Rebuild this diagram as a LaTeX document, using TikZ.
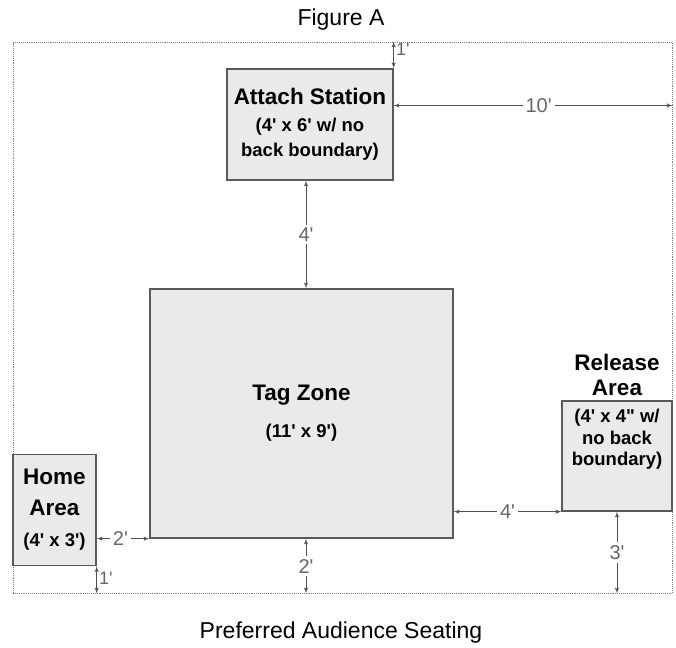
\documentclass[tikz,border=0pt]{standalone}
\usepackage{fontspec}
\setmainfont{Liberation Sans}
\usetikzlibrary{positioning,arrows}
\definecolor{boxfill}{HTML}{EAEAEA}
\definecolor{boxline}{HTML}{5A5A5A}
\definecolor{dimgray}{HTML}{505050}
\definecolor{dimtext}{HTML}{666666}
\newcommand{\ft}{\textquotesingle}
\newcommand{\inch}{\textquotedbl}
\newcommand{\titlefont}{\fontsize{22.5}{31}\selectfont\bfseries}
\newcommand{\subfont}{\fontsize{18.5}{25}\selectfont\bfseries}
\tikzstyle{area} = [rectangle, draw=boxline, fill=boxfill, line width=1.3pt, %
   inner sep=0pt, text centered, align=center]
\tikzstyle{field} = [rectangle, draw=gray, densely dotted, line width=0.9pt]
\tikzstyle{dummy} = [inner sep=0pt]
\tikzstyle{dim} = [draw, dimgray, line width=1pt, latex'-latex']
\tikzstyle{dimlabel} = [fill=white, text=dimtext, inner sep=3pt, font=\fontsize{20}{20}\selectfont]

\begin{document}
\begin{tikzpicture}[x=1pt, y=-1pt]
   \useasboundingbox (0,0) rectangle (676,647);
   % Place nodes
   \node [field, minimum width=659pt, minimum height=551pt](field) at (342.5,317.5){};
   \node [dummy, font=\fontsize{23}{23}\selectfont](figtitle) at (341,20){Figure A};
   \node [dummy, font=\fontsize{23}{23}\selectfont](seating) at (341,633){Preferred Audience Seating};

   % Areas %%%%%%%%%%%%%%%%%%%%%%%%%%%%%%%%%%%%%%%%%%%%%%%%%%%%%%%%%%%%%%
   \node[area, minimum width=166pt, minimum height=111pt, font=\subfont](Attach) at (310,124.5){%
      {\titlefont Attach Station}\\[2pt] (4\ft{} x 6\ft{} w/ no\\ back boundary)};

   \node[area, minimum width=303pt, minimum height=249pt, font=\subfont](TagZone) at (301.5,413.5){%
      {\titlefont Tag Zone}\\[12pt] (11\ft{} x 9\ft)};

   \node[area, minimum width=83pt, minimum height=111pt, font=\titlefont](Home) at (54.5,510){%
      Home\\ Area\\ {\subfont (4\ft{} x 3\ft)}};

   \node[area, minimum width=110pt, minimum height=110pt, %
      label={[align=center, font=\fontsize{22.5}{25}\selectfont\bfseries, inner sep=4pt]above:Release\\ Area}](Release) at (617,456){};
   \node[dummy, below=9pt of Release.north, align=center, font=\fontsize{18.5}{21.5}\selectfont\bfseries](ReleaseNote){%
      (4\ft{} x 4\inch{} w/\\ no back\\ boundary)};

   % Draw edges
   % Attach station
   \path [dim] (Attach.north east) -- (Attach.north east |- field.north)
      node[pos=0.7, right, inner sep=2pt, text=dimtext, font=\fontsize{18}{18}\selectfont]{1\ft};
   \path [dim] ([yshift=19pt]Attach.east) -- ([yshift=19pt]Attach.east -| field.east)
      node[dimlabel, pos=0.52]{10\ft};
   \path [dim] ([xshift=-4pt]Attach.south) -- ([xshift=-4pt]Attach.south |- TagZone.north)
      node[dimlabel, midway]{4\ft};
   % Home area
   \path [dim] (Home.east |- TagZone.south west) -- (TagZone.south west)
      node[dimlabel, pos=0.45]{2\ft};
   \path [dim] (Home.south east) -- (Home.south east |- field.south)
      node[pos=0.45, right, inner sep=2pt, text=dimtext, font=\fontsize{18}{18}\selectfont]{1\ft};
   % Tag zone
   \path [dim] ([xshift=4.5pt]TagZone.south) -- ([xshift=4.5pt]TagZone.south |- field.south)
      node[dimlabel, midway]{2\ft};
   \path [dim] (TagZone.east |- Release.south) -- (Release.south west)
      node[dimlabel, midway]{4\ft};
   % Release area
   \path [dim] (Release.south) -- (Release.south |- field.south)
      node[dimlabel, midway]{3\ft};
\end{tikzpicture}
\end{document}
